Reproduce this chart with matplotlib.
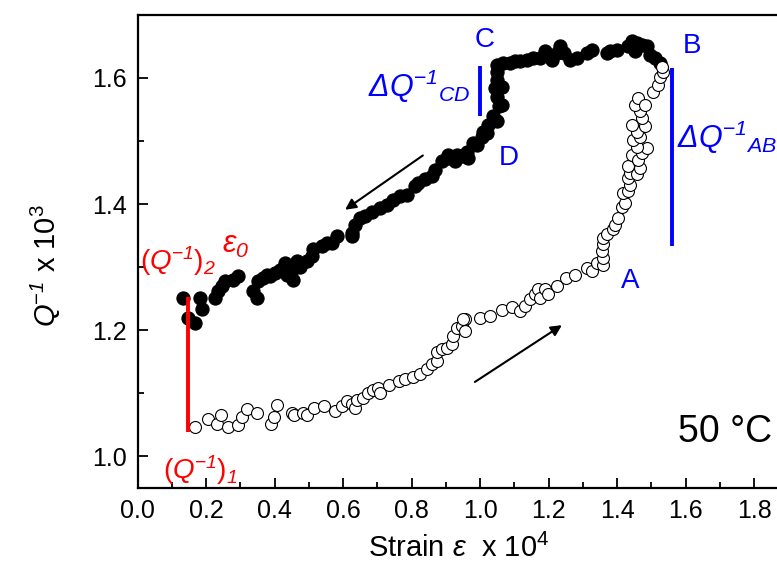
import matplotlib
matplotlib.use("Agg")
import matplotlib.pyplot as plt
from matplotlib.ticker import MultipleLocator

plt.rcParams['font.family'] = ['Liberation Sans', 'DejaVu Sans']
plt.rcParams['mathtext.fontset'] = 'custom'
plt.rcParams['mathtext.rm'] = 'Liberation Sans'
plt.rcParams['mathtext.it'] = 'Liberation Sans:italic'
# sf slot used for fully italic pieces (digits and Greek too)
plt.rcParams['mathtext.sf'] = 'Liberation Sans:italic'

# --- unloading branch (filled), from B back to the start ---
unload_x = [1.526, 1.511, 1.496, 1.487, 1.472, 1.457, 1.443, 1.453, 1.433, 1.399,
            1.380, 1.370, 1.326, 1.311, 1.282, 1.263, 1.246, 1.234, 1.224, 1.209,
            1.190, 1.175, 1.156, 1.136, 1.117, 1.102, 1.088, 1.068, 1.049, 1.049,
            1.049, 1.063, 1.044, 1.049, 1.063, 1.054, 1.039, 1.049, 1.024, 1.020,
            1.010, 1.005, 0.990, 0.980, 0.966, 0.961, 0.947, 0.932, 0.927, 0.907,
            0.907, 0.888, 0.869, 0.859, 0.839, 0.820, 0.810, 0.786, 0.766, 0.747,
            0.728, 0.708, 0.684, 0.664, 0.650, 0.635, 0.625, 0.625, 0.582, 0.567,
            0.552, 0.538, 0.513, 0.509, 0.494, 0.474, 0.465, 0.450, 0.436, 0.431,
            0.416, 0.455, 0.436, 0.401, 0.387, 0.377, 0.367, 0.353, 0.338, 0.348,
            0.294, 0.280, 0.255, 0.246, 0.236, 0.226, 0.182, 0.187, 0.168, 0.148,
            0.134]
unload_y = [1.623, 1.631, 1.636, 1.650, 1.652, 1.655, 1.658, 1.642, 1.650, 1.644,
            1.642, 1.639, 1.644, 1.639, 1.631, 1.628, 1.640, 1.650, 1.639, 1.628,
            1.642, 1.631, 1.631, 1.628, 1.626, 1.626, 1.623, 1.623, 1.621, 1.610,
            1.597, 1.586, 1.584, 1.570, 1.557, 1.555, 1.539, 1.531, 1.526, 1.512,
            1.515, 1.507, 1.494, 1.497, 1.473, 1.483, 1.476, 1.478, 1.468, 1.478,
            1.473, 1.468, 1.454, 1.444, 1.439, 1.433, 1.428, 1.415, 1.412, 1.407,
            1.399, 1.394, 1.388, 1.381, 1.378, 1.367, 1.354, 1.349, 1.349, 1.338,
            1.338, 1.333, 1.328, 1.317, 1.309, 1.301, 1.309, 1.296, 1.301, 1.307,
            1.296, 1.280, 1.288, 1.291, 1.286, 1.288, 1.283, 1.278, 1.262, 1.251,
            1.286, 1.280, 1.278, 1.270, 1.262, 1.251, 1.251, 1.233, 1.212, 1.220,
            1.251]

# --- loading branch (open), from the start up to B ---
load_x = [0.168, 0.205, 0.231, 0.243, 0.265, 0.294, 0.304, 0.321, 0.350, 0.390,
          0.399, 0.406, 0.450, 0.458, 0.484, 0.494, 0.515, 0.545, 0.577, 0.596,
          0.611, 0.625, 0.635, 0.640, 0.657, 0.674, 0.688, 0.703, 0.708, 0.735,
          0.764, 0.781, 0.803, 0.825, 0.844, 0.859, 0.874, 0.874, 0.888, 0.903,
          0.917, 0.922, 0.932, 0.947, 0.956, 0.956, 0.951, 1.000, 1.029, 1.063,
          1.093, 1.117, 1.131, 1.146, 1.161, 1.170, 1.175, 1.190, 1.199, 1.224,
          1.251, 1.277, 1.311, 1.326, 1.341, 1.360, 1.360, 1.355, 1.360, 1.358,
          1.370, 1.389, 1.394, 1.404, 1.414, 1.423, 1.418, 1.433, 1.438, 1.433,
          1.438, 1.433, 1.457, 1.467, 1.443, 1.462, 1.472, 1.487, 1.457, 1.448,
          1.467, 1.457, 1.443, 1.482, 1.472, 1.467, 1.453, 1.462, 1.482, 1.506,
          1.521, 1.526, 1.535, 1.530]
load_y = [1.047, 1.059, 1.052, 1.066, 1.047, 1.049, 1.063, 1.075, 1.068, 1.052,
          1.062, 1.081, 1.068, 1.066, 1.069, 1.065, 1.077, 1.080, 1.072, 1.080,
          1.088, 1.083, 1.077, 1.090, 1.093, 1.101, 1.105, 1.109, 1.101, 1.113,
          1.120, 1.122, 1.126, 1.130, 1.138, 1.146, 1.151, 1.165, 1.170, 1.172,
          1.178, 1.191, 1.204, 1.207, 1.217, 1.199, 1.217, 1.220, 1.222, 1.232,
          1.237, 1.230, 1.238, 1.249, 1.257, 1.265, 1.251, 1.265, 1.257, 1.270,
          1.283, 1.288, 1.299, 1.294, 1.307, 1.303, 1.315, 1.325, 1.336, 1.346,
          1.352, 1.360, 1.367, 1.378, 1.396, 1.402, 1.418, 1.420, 1.431, 1.441,
          1.449, 1.460, 1.447, 1.457, 1.478, 1.470, 1.481, 1.489, 1.491, 1.502,
          1.507, 1.515, 1.526, 1.523, 1.536, 1.547, 1.557, 1.568, 1.557, 1.578,
          1.589, 1.602, 1.610, 1.618]

# marker bars: (x, y_low, y_high)
red_bar = (0.148, 1.038, 1.252)
cd_bar = (1.000, 1.540, 1.619)
ab_bar = (1.560, 1.333, 1.615)

fig = plt.figure(figsize=(7.77, 5.70), dpi=100)
ax = fig.add_axes([0.177, 0.144, 0.8375, 0.830])

ax.plot(unload_x, unload_y, 'o', ms=9.5, mfc='black', mec='black', mew=0.8)
ax.plot(load_x, load_y, 'o', ms=8.6, mfc='white', mec='black', mew=0.8)

ax.vlines(red_bar[0], red_bar[1], red_bar[2], color='#ff0000', lw=2.8)
ax.vlines(cd_bar[0], cd_bar[1], cd_bar[2], color='#0000ff', lw=2.8)
ax.vlines(ab_bar[0], ab_bar[1], ab_bar[2], color='#0000ff', lw=2.8)

arrow = dict(arrowstyle='-|>', color='black', lw=1.5, mutation_scale=16,
             shrinkA=0, shrinkB=0)
ax.annotate('', xy=(0.606, 1.391), xytext=(0.833, 1.477), arrowprops=arrow)
ax.annotate('', xy=(1.239, 1.208), xytext=(0.985, 1.118), arrowprops=arrow)

blue = '#0000ff'
red = '#ff0000'
for lab, x, y in [('C', 1.014, 1.660), ('B', 1.618, 1.650),
                  ('D', 1.083, 1.473), ('A', 1.438, 1.278)]:
    ax.text(x, y, lab, color=blue, fontsize=20, ha='center', va='center')

ax.text(0.673, 1.570, r'$\mathsf{\Delta Q}^{-\mathsf{1}}{}_{\mathsf{CD}}$',
        color=blue, fontsize=22, ha='left', va='baseline')
ax.text(1.574, 1.489, r'$\mathsf{\Delta Q}^{-\mathsf{1}}{}_{\mathsf{AB}}$',
        color=blue, fontsize=22, ha='left', va='baseline', clip_on=False)
ax.text(0.007, 1.295, r'$(\mathsf{Q}^{-\mathsf{1}})_{\mathsf{2}}$',
        color=red, fontsize=20, ha='left', va='baseline')
ax.text(0.246, 1.322, r'$\mathsf{\varepsilon}_{\mathsf{0}}$',
        color=red, fontsize=22, ha='left', va='baseline')
ax.text(0.075, 0.964, r'$(\mathsf{Q}^{-\mathsf{1}})_{\mathsf{1}}$',
        color=red, fontsize=20, ha='left', va='baseline', clip_on=False)
ax.text(1.578, 1.0225, '50 °C', color='black', fontsize=27,
        ha='left', va='baseline')

ax.set_xlim(0, 1.9)
ax.set_ylim(0.95, 1.70)
ax.xaxis.set_major_locator(MultipleLocator(0.2))
ax.xaxis.set_minor_locator(MultipleLocator(0.1))
ax.yaxis.set_major_locator(MultipleLocator(0.2))
ax.yaxis.set_minor_locator(MultipleLocator(0.1))
ax.xaxis.set_major_formatter(lambda v, p: f'{v:.1f}')
ax.yaxis.set_major_formatter(lambda v, p: f'{v:.1f}')
ax.tick_params(which='both', direction='in', top=False, right=False,
               labelsize=18, width=1.3)
ax.tick_params(which='major', length=7.5, pad=8)
ax.tick_params(which='minor', length=4)
for s in ax.spines.values():
    s.set_linewidth(1.6)

ax.set_xlabel(r'Strain $\mathsf{\varepsilon}$  x 10$^4$', fontsize=21)
ax.set_ylabel(r'$\mathsf{Q}^{-\mathsf{1}}$ x 10$^3$', fontsize=21)
ax.xaxis.set_label_coords(0.494, -0.098)
ax.yaxis.set_label_coords(-0.115, 0.47)

fig.savefig('out.png', dpi=100)
